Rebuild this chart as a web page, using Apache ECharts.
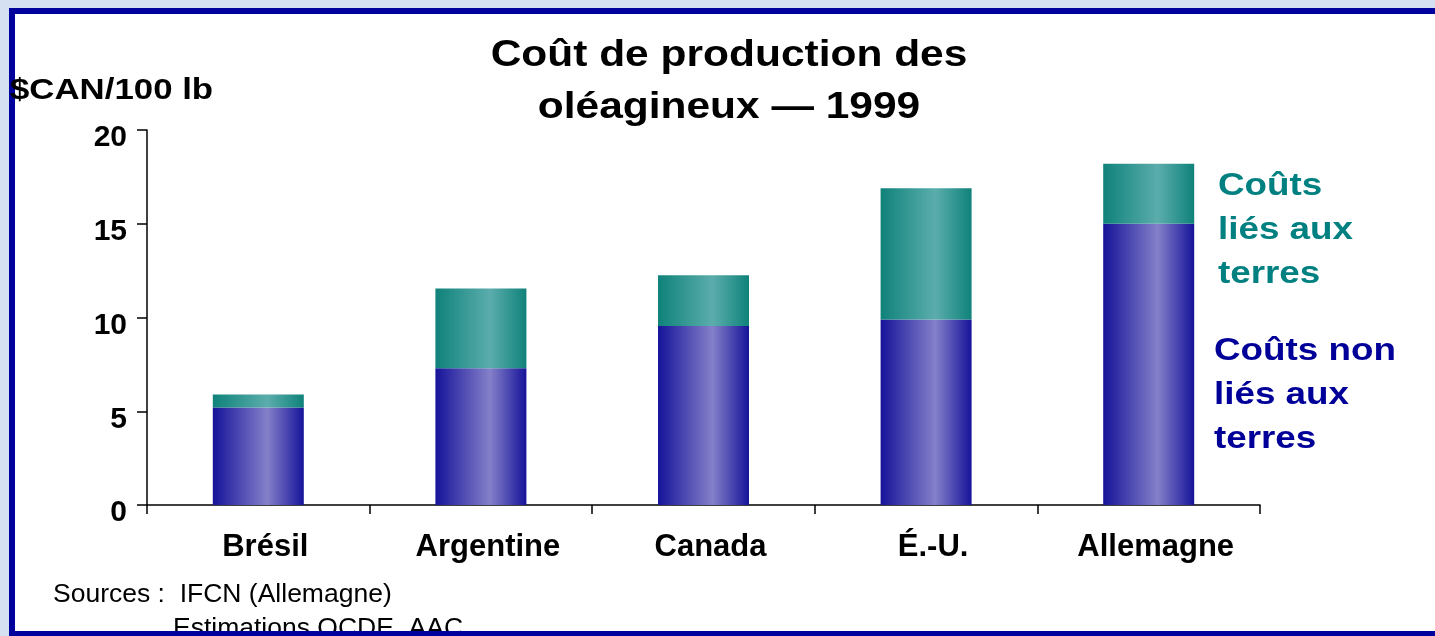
<!DOCTYPE html>
<html>
<head>
<meta charset="utf-8">
<script src="https://cdn.jsdelivr.net/npm/echarts@6/dist/echarts.min.js"></script>
<style>
  html, body { margin: 0; padding: 0; background: #d6e0f3; overflow: hidden; }
  #frame {
    position: absolute; left: 9px; top: 8px; width: 1426px; height: 628px;
    background: #fff; border-left: 6px solid #00009c; border-top: 6px solid #00009c;
    box-sizing: border-box;
  }
  #bottomBand { position: absolute; left: 9px; top: 631px; width: 1426px; height: 5px; background: #00009c; z-index: 5; }
  #chart { position: absolute; left: 0; top: 0; width: 1435px; height: 636px; z-index: 2; }
</style>
</head>
<body>
<div id="frame"></div>
<div id="chart"></div>
<div id="bottomBand"></div>
<script>
const countries = ["Brésil", "Argentine", "Canada", "É.-U.", "Allemagne"];
// coûts non liés aux terres ($CAN/100 lb)
const nonLandCosts = [5.2, 7.3, 9.55, 9.9, 15.0];
// coûts liés aux terres (part empilée au-dessus)
const landCosts = [0.7, 4.25, 2.7, 7.0, 3.2];
const yTicks = [0, 5, 10, 15, 20];

const FONT = "'Liberation Sans', Arial, sans-serif";

function hGrad(edge, mid) {
  return new echarts.graphic.LinearGradient(0, 0, 1, 0, [
    { offset: 0, color: edge },
    { offset: 0.6, color: mid },
    { offset: 1, color: edge },
  ]);
}

const chart = echarts.init(document.getElementById("chart"));

chart.setOption({
  animation: false,
  grid: { left: 147, right: 175, top: 130, bottom: 131 },
  xAxis: {
    type: "category",
    data: countries,
    axisLine: { lineStyle: { color: "#000", width: 1.5 } },
    axisTick: { show: true, length: 9, lineStyle: { color: "#000", width: 1.5 } },
    axisLabel: {
      color: "#000", fontFamily: FONT, fontWeight: "bold", fontSize: 31, margin: 27,
      padding: [0, 0, 0, 14],
    },
  },
  yAxis: {
    type: "value",
    min: yTicks[0],
    max: yTicks[yTicks.length - 1],
    interval: 5,
    splitLine: { show: false },
    axisLine: { show: true, lineStyle: { color: "#000", width: 1.5 } },
    axisTick: { show: true, length: 10, lineStyle: { color: "#000", width: 1.5 } },
    axisLabel: {
      color: "#000", fontFamily: FONT, fontWeight: "bold", fontSize: 30, margin: 20,
      verticalAlign: "top", lineHeight: 16,
    },
  },
  series: [
    {
      name: "Coûts non liés aux terres",
      type: "bar",
      stack: "total",
      barWidth: 91,
      data: nonLandCosts,
      itemStyle: { color: hGrad("#16139a", "#8480c9") },
    },
    {
      name: "Coûts liés aux terres",
      type: "bar",
      stack: "total",
      barWidth: 91,
      data: landCosts,
      itemStyle: { color: hGrad("#0f827a", "#5badac") },
    },
  ],
  graphic: [
    {
      type: "text", x: 729, y: 30, scaleX: 1.18,
      style: {
        x: 0, y: 0,
        text: "Coût de production des\noléagineux — 1999",
        font: "bold 36px " + FONT, fill: "#000", textAlign: "center", lineHeight: 52,
      },
    },
    {
      type: "text", x: 10, y: 76, scaleX: 1.16,
      style: { x: 0, y: 0, text: "$CAN/100 lb", font: "bold 30px " + FONT, fill: "#000" },
    },
    {
      type: "text", x: 1218, y: 164, scaleX: 1.15,
      style: { x: 0, y: 0, text: "Coûts\nliés aux\nterres", font: "bold 32px " + FONT, fill: "#008080", lineHeight: 44 },
    },
    {
      type: "text", x: 1214, y: 329, scaleX: 1.15,
      style: { x: 0, y: 0, text: "Coûts non\nliés aux\nterres", font: "bold 32px " + FONT, fill: "#000099", lineHeight: 44 },
    },
    { type: "text", left: 53, top: 581, style: { text: "Sources :  IFCN (Allemagne)", font: "26.5px " + FONT, fill: "#000" } },
    { type: "text", left: 173, top: 615, style: { text: "Estimations OCDE, AAC", font: "26.5px " + FONT, fill: "#000" } },
  ],
});
</script>
</body>
</html>
